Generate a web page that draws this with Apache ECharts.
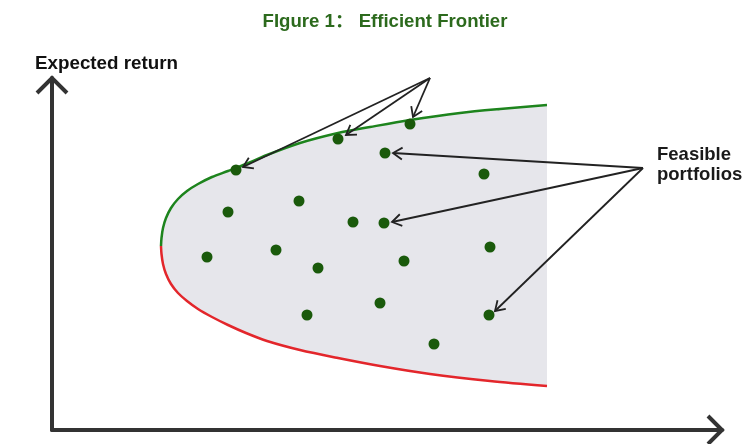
<!DOCTYPE html>
<html>
<head>
<meta charset="utf-8">
<script src="https://cdn.jsdelivr.net/npm/echarts@6/dist/echarts.min.js"></script>
<style>
html,body{margin:0;padding:0;background:#fff;}
#chart{width:750px;height:444px;}
</style>
</head>
<body>
<div id="chart"></div>
<script>
// ---- Data (risk on x, expected return on y; arbitrary units) ----
const titleText = 'FIgure 1\uFF1A Efficient Frontier';
const yAxisName = 'Expected return';
const noteText = 'Feasible\nportfolios';

// Efficient frontier (upper branch, green)
const upperRisk   = [10.9, 10.95, 11.1, 11.4, 11.9, 12.6, 13.5, 14.6, 16.0, 17.6, 19.4, 21.5, 24.8, 28.6, 31.8, 35.8, 40.8, 44.8, 49.5];
const upperReturn = [18.4, 19.2, 20.2, 21.2, 22.2, 23.1, 23.9, 24.6, 25.3, 25.9, 26.6, 27.5, 28.7, 29.7, 30.3, 31.0, 31.7, 32.1, 32.5];
// Lower branch (red)
const lowerRisk   = [10.9, 10.95, 11.1, 11.4, 11.9, 12.6, 13.5, 14.6, 16.0, 17.6, 19.4, 21.5, 24.8, 28.6, 32.8, 37.8, 43.8, 49.5];
const lowerReturn = [18.4, 17.6, 16.6, 15.6, 14.6, 13.7, 12.9, 12.1, 11.3, 10.5,  9.7,  8.9,  8.0,  7.2,  6.4,  5.6,  4.9,  4.4];

// Feasible portfolios
const portRisk   = [35.8, 28.6, 33.3, 18.4, 43.2, 17.6, 24.7, 30.1, 33.2, 15.5, 22.4, 26.6, 35.2, 43.8, 32.8, 25.5, 43.7, 38.2];
const portReturn = [30.6, 29.1, 27.7, 26.0, 25.6, 21.8, 22.9, 20.8, 20.7, 17.3, 18.0, 16.2, 16.9, 18.3, 12.7, 11.5, 11.5,  8.6];

// Annotation arrows: start (risk, return) -> end (risk, return)
const arrowFromRisk   = [37.8, 37.8, 37.8, 59.1, 59.1, 59.1];
const arrowFromReturn = [35.2, 35.2, 35.2, 26.2, 26.2, 26.2];
const arrowToRisk     = [19.1, 29.4, 36.1, 34.1, 34.0, 44.3];
const arrowToReturn   = [26.3, 29.5, 31.3, 27.7, 20.8, 11.9];

const xMax = 67, yMax = 35.2;

// ---- Build ----
const zip = (a, b) => a.map((v, i) => [v, b[i]]);
const upper = zip(upperRisk, upperReturn);
const lower = zip(lowerRisk, lowerReturn);
const ports = zip(portRisk, portReturn);
const arrows = arrowFromRisk.map((v, i) => [v, arrowFromReturn[i], arrowToRisk[i], arrowToReturn[i]]);
const region = upper.concat(lower.slice().reverse());

const FONT = '"Liberation Sans", "Noto Sans CJK SC", sans-serif';

const chart = echarts.init(document.getElementById('chart'), null, {renderer: 'canvas'});
chart.setOption({
  animation: false,
  backgroundColor: '#ffffff',
  title: [
    {text: titleText, left: 385, textAlign: 'center', top: 13, padding: 0,
     textStyle: {fontFamily: FONT, fontSize: 18.6, fontWeight: 'bold', color: '#2c6a1d'}},
    {text: yAxisName, left: 35, top: 54, padding: 0,
     textStyle: {fontFamily: FONT, fontSize: 18.8, fontWeight: 'bold', color: '#111111'}},
    {text: noteText, left: 657, top: 145, padding: 0,
     textStyle: {fontFamily: FONT, fontSize: 18.5, fontWeight: 'bold', color: '#1a1a1a', lineHeight: 20}}
  ],
  grid: {left: 52, right: 28, top: 78, bottom: 14, containLabel: false},
  xAxis: {type: 'value', min: 0, max: xMax,
    axisLine: {show: true, lineStyle: {color: '#333333', width: 4}},
    axisTick: {show: false}, axisLabel: {show: false}, splitLine: {show: false}},
  yAxis: {type: 'value', min: 0, max: yMax,
    axisLine: {show: true, lineStyle: {color: '#333333', width: 4}},
    axisTick: {show: false}, axisLabel: {show: false}, splitLine: {show: false}},
  series: [
    {
      name: 'feasible region', type: 'custom', z: 1, silent: true,
      data: [[0, 0]],
      renderItem: function (params, api) {
        return {type: 'polygon', shape: {points: region.map(p => api.coord(p))},
                style: {fill: '#e6e6eb', stroke: null}};
      }
    },
    {
      name: 'efficient frontier', type: 'line', z: 3, data: upper, smooth: 0.3,
      symbol: 'none', lineStyle: {color: '#1d841d', width: 2.5}
    },
    {
      name: 'inefficient frontier', type: 'line', z: 3, data: lower, smooth: 0.3,
      symbol: 'none', lineStyle: {color: '#e3262b', width: 2.5}
    },
    {
      name: 'portfolios', type: 'scatter', z: 4, data: ports, symbolSize: 11,
      itemStyle: {color: '#1a5a0b', opacity: 1}
    },
    {
      name: 'arrows', type: 'custom', z: 5, silent: true,
      data: arrows, encode: {x: [0, 2], y: [1, 3]},
      renderItem: function (params, api) {
        const p1 = api.coord([api.value(0), api.value(1)]);
        const p2 = api.coord([api.value(2), api.value(3)]);
        const dx = p2[0] - p1[0], dy = p2[1] - p1[1];
        const len = Math.sqrt(dx * dx + dy * dy);
        const ux = dx / len, uy = dy / len;
        const L = 11, a = Math.PI / 5.5;
        const arm = s => [p2[0] - L * (ux * Math.cos(s * a) - uy * Math.sin(s * a)),
                          p2[1] - L * (ux * Math.sin(s * a) + uy * Math.cos(s * a))];
        const st = {stroke: '#222222', lineWidth: 1.8, fill: null, lineJoin: 'miter'};
        return {type: 'group', children: [
          {type: 'line', shape: {x1: p1[0], y1: p1[1], x2: p2[0], y2: p2[1]}, style: st},
          {type: 'polyline', shape: {points: [arm(1), p2, arm(-1)]}, style: st}
        ]};
      }
    },
    {
      name: 'axis arrows', type: 'custom', z: 6, silent: true,
      data: [[xMax, 0, 0], [0, yMax, 1]],
      renderItem: function (params, api) {
        const p = api.coord([api.value(0), api.value(1)]);
        const pts = api.value(2) === 0
          ? [[p[0] - 14, p[1] - 14], p, [p[0] - 14, p[1] + 14]]
          : [[p[0] - 15, p[1] + 15], p, [p[0] + 15, p[1] + 15]];
        return {type: 'polyline', shape: {points: pts},
                style: {stroke: '#333333', lineWidth: 4, fill: null, lineJoin: 'miter'}};
      }
    }
  ]
});
</script>
</body>
</html>
